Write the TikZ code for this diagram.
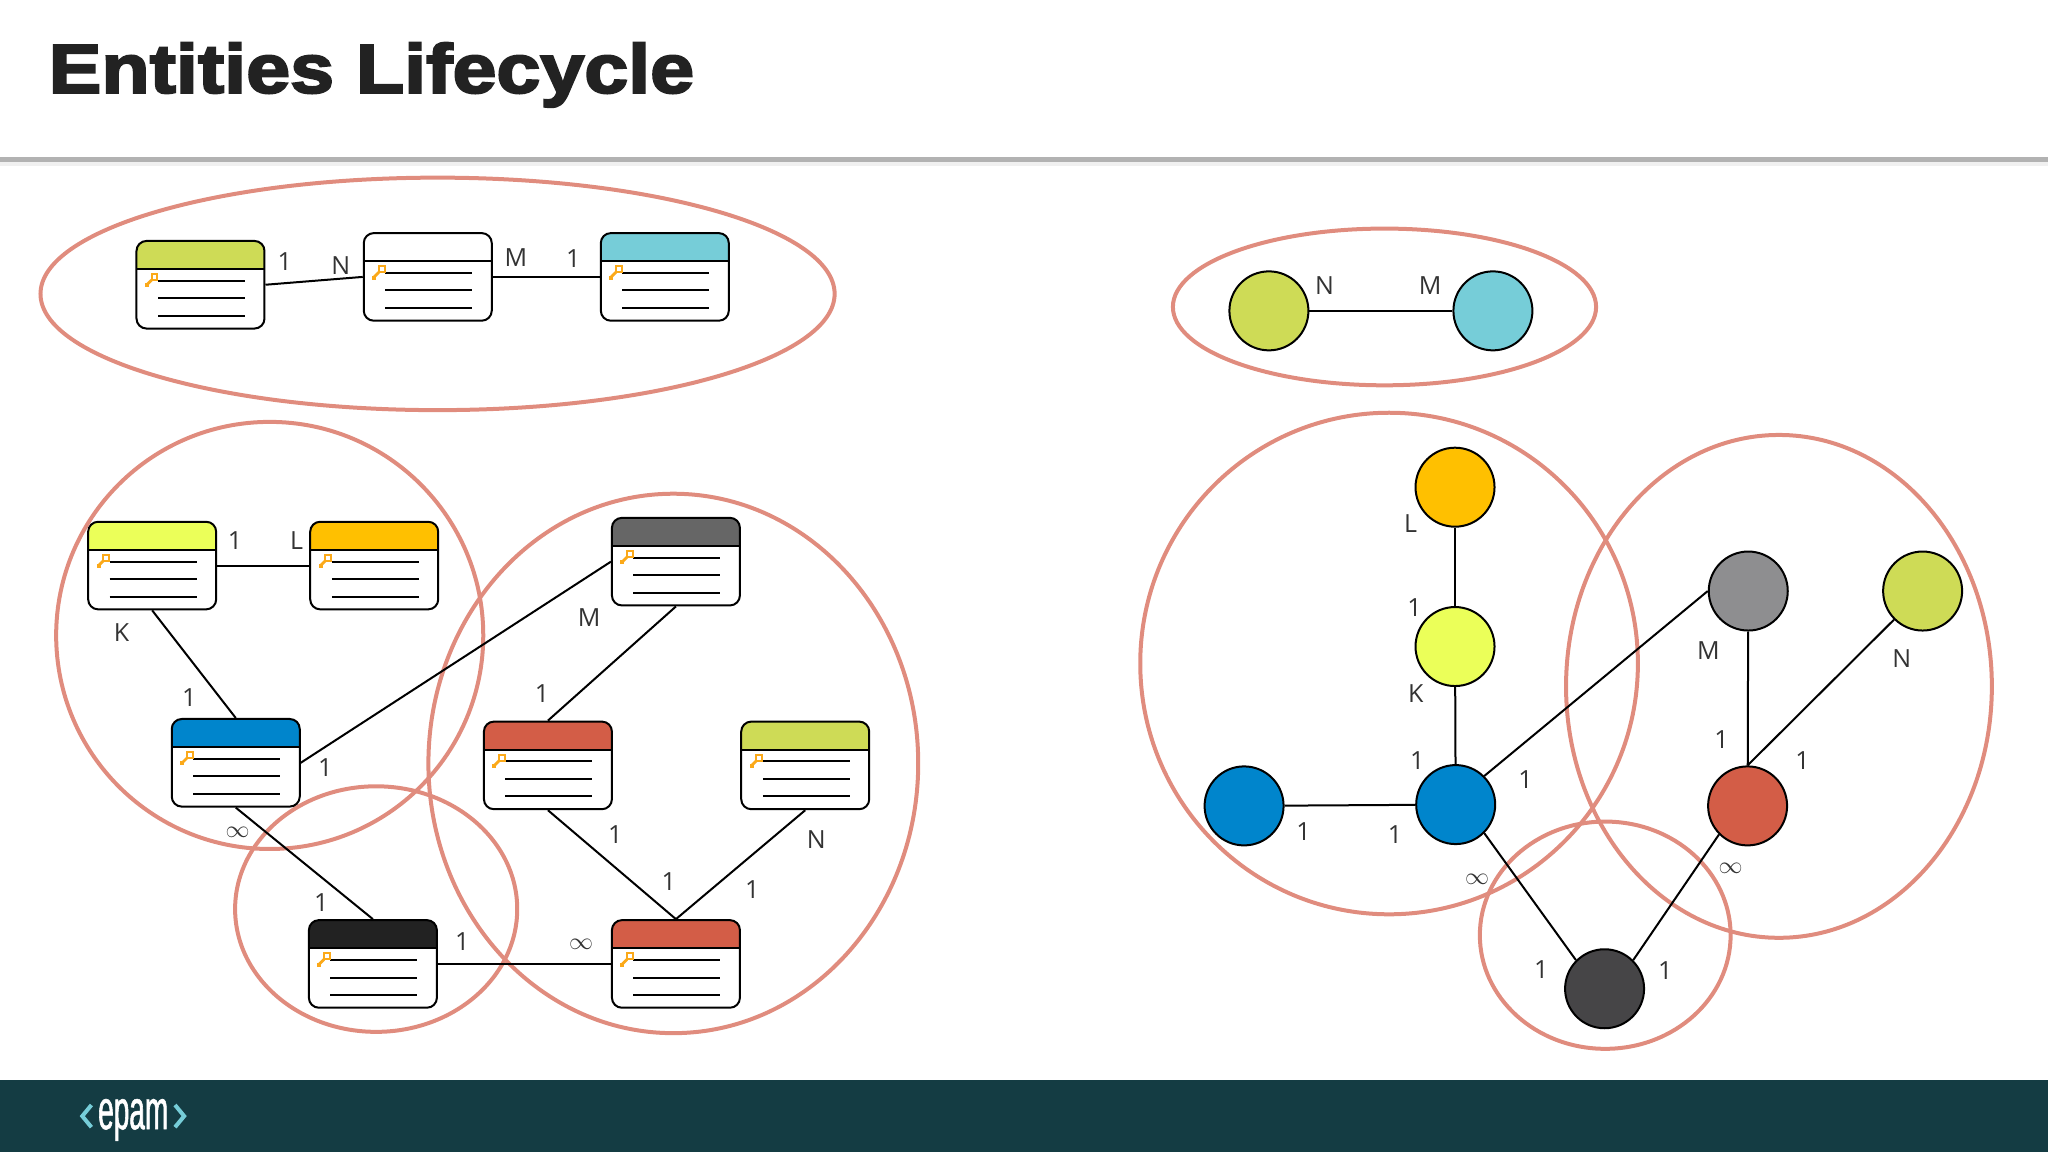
\documentclass[tikz,border=0pt]{standalone}
\usepackage{fontspec}
\setmainfont{Open Sans}
\newfontfamily\titlefont[FakeBold=3.2,FakeStretch=1.145]{Liberation Sans Bold}
\newfontfamily\logofont[FakeBold=1,FakeStretch=0.5]{Liberation Sans}
\definecolor{olive}{HTML}{CEDB56}
\definecolor{skyteal}{HTML}{76CDD8}
\definecolor{limey}{HTML}{EBFF59}
\definecolor{amber}{HTML}{FFC000}
\definecolor{keyorange}{HTML}{FBA919}
\definecolor{greyhead}{HTML}{666666}
\definecolor{greynode}{HTML}{8E8E90}
\definecolor{bluehead}{HTML}{0085CC}
\definecolor{redhead}{HTML}{D35D47}
\definecolor{darkhead}{HTML}{222222}
\definecolor{darknode}{HTML}{464547}
\definecolor{groupline}{HTML}{E08C7E}
\definecolor{footer}{HTML}{143C43}
\tikzset{
	entity/.style={draw=black, fill=white, line width=1pt, rounded corners=5pt, minimum width=64pt, minimum height=43.8pt, inner sep=0pt,
		path picture={
			\begin{scope}[sharp corners, shift={(path picture bounding box.center)}]
				\fill[#1] (-60,-40) rectangle (60,-12);
				\draw[line width=1pt] (-60,-12) -- (60,-12);
				\draw[line width=1pt] (-32.5,-3) -- (34,-3);
				\draw[line width=1pt] (-32.5,10.4) -- (34,10.4);
				\draw[line width=1pt] (-32.5,23.7) -- (34,23.7);
				\draw[keyorange, line width=1pt] (-37.5,-8) rectangle (-33,-3.5);
				\draw[keyorange, line width=1.4pt] (-37.5,-3.5) -- (-41,0);
				\fill[keyorange] (-42.5,-1) rectangle (-39.5,2);
			\end{scope}
		}},
	entity/.default=white,
	dot/.style={circle, draw=black, line width=1pt, fill=#1, minimum size=39.5pt, inner sep=0pt},
	link/.style={draw=black, line width=1pt},
	grp/.style={draw=groupline, line width=2pt},
	lbl/.style={font=\fontsize{12.5}{14}\selectfont, text=black!80, inner sep=0pt}
}
\begin{document}
\begin{tikzpicture}[x=0.65306pt,y=-0.65306pt]
	\useasboundingbox (0,0) rectangle (1568,882);
	
	% header and footer
	\fill[black!6] (0,124) rectangle (1568,127);
	\fill[black!30] (0,120) rectangle (1568,124);
	\node[anchor=base west, inner sep=0pt, text=darkhead, font=\titlefont\fontsize{34.5}{40}\selectfont] (title) at (37,71) {Entities Lifecycle};
	\fill[footer] (0,827) rectangle (1568,882);
	\node[anchor=base, inner sep=0pt, text=white, font=\logofont\fontsize{28}{30}\selectfont] (logo) at (102,864.5) {epam};
	\draw[skyteal, line width=2pt] (70,846) -- (63,854.5) -- (70,863);
	\draw[skyteal, line width=2pt] (134,846) -- (141,854.5) -- (134,863);
	
	% groups
	\draw[grp] (335,225) ellipse [x radius=304, y radius=89];
	\draw[grp] (206.5,486.5) ellipse [x radius=163.5, y radius=163.5];
	\draw[grp] (515.5,584.5) ellipse [x radius=187.5, y radius=206.5];
	\draw[grp] (288,696) ellipse [x radius=108, y radius=94];
	\draw[grp] (1060,235) ellipse [x radius=162, y radius=60];
	\draw[grp] (1063.5,508) ellipse [x radius=190.5, y radius=192];
	\draw[grp] (1362,525.5) ellipse [x radius=163, y radius=192.5];
	\draw[grp] (1229,716) ellipse [x radius=96, y radius=87];
	
	% tables
	\node[entity=olive] (tolive) at (153.5,218) {};
	\node[entity] (tlink) at (327.5,212) {};
	\node[entity=skyteal] (tteal) at (509,212) {};
	\node[entity=limey] (tlime) at (116.5,433) {};
	\node[entity=amber] (tamber) at (286.5,433) {};
	\node[entity=greyhead] (tgrey) at (517.5,430) {};
	\node[entity=bluehead] (tblue) at (180.5,584) {};
	\node[entity=redhead] (tred) at (419.5,586) {};
	\node[entity=olive] (toliveb) at (616.5,586) {};
	\node[entity=darkhead] (tdark) at (285.5,738) {};
	\node[entity=redhead] (tredb) at (517.5,738) {};
	
	\draw[link] (tolive.east) -- (tlink.west);
	\draw[link] (tlink.east) -- (tteal.west);
	\draw[link] (tlime.east) -- (tamber.west);
	\draw[link] (tlime.south) -- (tblue.north);
	\draw[link] (tblue.east) -- (tgrey.west);
	\draw[link] (tgrey.south) -- (tred.north);
	\draw[link] (tblue.south) -- (tdark.north);
	\draw[link] (tred.south) -- (tredb.north);
	\draw[link] (toliveb.south) -- (tredb.north);
	\draw[link] (tdark.east) -- (tredb.west);
	
	% circles
	\node[dot=olive] (colive) at (971.5,238) {};
	\node[dot=skyteal] (cteal) at (1143,238) {};
	\node[dot=amber] (camber) at (1114,373) {};
	\node[dot=limey] (clime) at (1114,495) {};
	\node[dot=bluehead] (cbluea) at (952.5,617) {};
	\node[dot=bluehead] (cblue) at (1114.5,616) {};
	\node[dot=greynode] (cgrey) at (1338.5,452.5) {};
	\node[dot=olive] (coliveb) at (1472,452.5) {};
	\node[dot=redhead] (cred) at (1338,617) {};
	\node[dot=darknode] (cdark) at (1228.5,757) {};
	
	\draw[link] (colive) -- (cteal);
	\draw[link] (camber) -- (clime);
	\draw[link] (clime) -- (cblue);
	\draw[link] (cbluea) -- (cblue);
	\draw[link] (cblue.north east) -- (cgrey.west);
	\draw[link] (cgrey) -- (cred);
	\draw[link] (coliveb.south west) -- (cred.north);
	\draw[link] (cblue.south east) -- (cdark.north west);
	\draw[link] (cred.south west) -- (cdark.north east);
	
	% labels, tables
	\node[lbl] (la) at (218,200) {1};
	\node[lbl] (lb) at (261,203) {N};
	\node[lbl] (lc) at (395,197) {M};
	\node[lbl] (ld) at (439,198) {1};
	\node[lbl] (le) at (180,414) {1};
	\node[lbl] (lf) at (227,414) {L};
	\node[lbl] (lg) at (93,484) {K};
	\node[lbl] (lh) at (145,534) {1};
	\node[lbl] (li) at (451,473) {M};
	\node[lbl] (lj) at (415,531) {1};
	\node[lbl] (lk) at (249,588) {1};
	\node[lbl] (ll) at (182,637) {$\infty$};
	\node[lbl] (lm) at (246,691) {1};
	\node[lbl] (ln) at (354,721) {1};
	\node[lbl] (lo) at (445,723) {$\infty$};
	\node[lbl] (lp) at (471,639) {1};
	\node[lbl] (lq) at (512,675) {1};
	\node[lbl] (lr) at (576,681) {1};
	\node[lbl] (ls) at (625,643) {N};
	
	% labels, circles
	\node[lbl] (ma) at (1014,219) {N};
	\node[lbl] (mb) at (1095,219) {M};
	\node[lbl] (mc) at (1080,401) {L};
	\node[lbl] (md) at (1083,465) {1};
	\node[lbl] (me) at (1084,531) {K};
	\node[lbl] (mf) at (1085,582) {1};
	\node[lbl] (mg) at (1168,597) {1};
	\node[lbl] (mh) at (998,637) {1};
	\node[lbl] (mi) at (1068,639) {1};
	\node[lbl] (mj) at (1131,673) {$\infty$};
	\node[lbl] (mk) at (1180,742) {1};
	\node[lbl] (ml) at (1275,743) {1};
	\node[lbl] (mm) at (1325,665) {$\infty$};
	\node[lbl] (mn) at (1308,498) {M};
	\node[lbl] (mo) at (1456,504) {N};
	\node[lbl] (mp) at (1318,566) {1};
	\node[lbl] (mq) at (1380,582) {1};
\end{tikzpicture}
\end{document}
